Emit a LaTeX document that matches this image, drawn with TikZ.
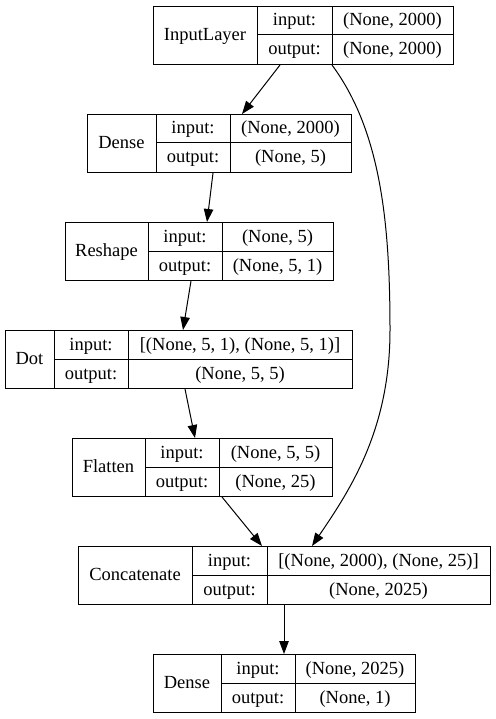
\documentclass[tikz,border=0pt]{standalone}
\usepackage{fontspec}
\setmainfont{Liberation Serif}
\usetikzlibrary{arrows.meta}
\tikzset{
  recbox/.style={draw, line width=1pt, inner sep=0pt, anchor=north west, minimum height=58pt},
  sep/.style={line width=1pt},
  cell/.style={inner sep=0pt, anchor=base, font=\fontsize{18.5}{20}\selectfont},
  conn/.style={line width=1pt, -{Triangle[length=13pt,width=9.5pt]}},
}
% name, left, top, right, div1, div2, label, input value, output value
\newcommand\krec[9]{%
  \pgfmathsetmacro\kw{#4-#2}%
  \node[recbox, minimum width=\kw pt] (#1) at (#2,#3) {};
  \draw[sep] (#5,#3) -- (#5,#3+58);
  \draw[sep] (#6,#3) -- (#6,#3+58);
  \draw[sep] (#5,#3+29) -- (#4,#3+29);
  \node[cell] (#1-name) at ({(#2+#5)/2},#3+29+5.5) {#7};
  \node[cell] (#1-inl) at ({(#5+#6)/2},#3+14.5+5.5) {input:};
  \node[cell] (#1-outl) at ({(#5+#6)/2},#3+43.5+5.5) {output:};
  \node[cell] (#1-inv) at ({(#6+#4)/2},#3+14.5+5.5) {#8};
  \node[cell] (#1-outv) at ({(#6+#4)/2},#3+43.5+5.5) {#9};
}
\begin{document}
\begin{tikzpicture}[x=1pt,y=-1pt]
  \fill[white] (0,0) rectangle (495,719);
  \useasboundingbox (0,0) rectangle (495,719);
  \krec{inp}{153}{6}{453}{257}{332}{InputLayer}{(None, 2000)}{(None, 2000)}
  \krec{d1}{87}{114}{351}{156}{230}{Dense}{(None, 2000)}{(None, 5)}
  \krec{rs}{65}{222}{333}{148}{222}{Reshape}{(None, 5)}{(None, 5, 1)}
  \krec{dot}{5}{330}{352}{54}{128}{Dot}{[(None, 5, 1), (None, 5, 1)]}{(None, 5, 5)}
  \krec{fl}{72}{438}{332}{145}{219}{Flatten}{(None, 5, 5)}{(None, 25)}
  \krec{cat}{78}{546}{490}{192}{267}{Concatenate}{[(None, 2000), (None, 25)]}{(None, 2025)}
  \krec{d2}{153}{654}{415}{221}{295}{Dense}{(None, 2025)}{(None, 1)}
  % connectors
  \draw[conn] ([xshift=127pt]inp.south west) -- ([xshift=155pt]d1.north west);
  \draw[conn] ([xshift=179pt]inp.south west) .. controls (380,130) and (390,220) .. (390,330)
              .. controls (390,430) and (350,490) .. ([xshift=234pt]cat.north west);
  \draw[conn] ([xshift=126pt]d1.south west) -- ([xshift=142pt]rs.north west);
  \draw[conn] ([xshift=126pt]rs.south west) -- ([xshift=178pt]dot.north west);
  \draw[conn] ([xshift=180pt]dot.south west) -- ([xshift=123pt]fl.north west);
  \draw[conn] ([xshift=150pt]fl.south west) -- ([xshift=184pt]cat.north west);
  \draw[conn] ([xshift=206pt]cat.south west) -- ([xshift=131pt]d2.north west);
\end{tikzpicture}
\end{document}
